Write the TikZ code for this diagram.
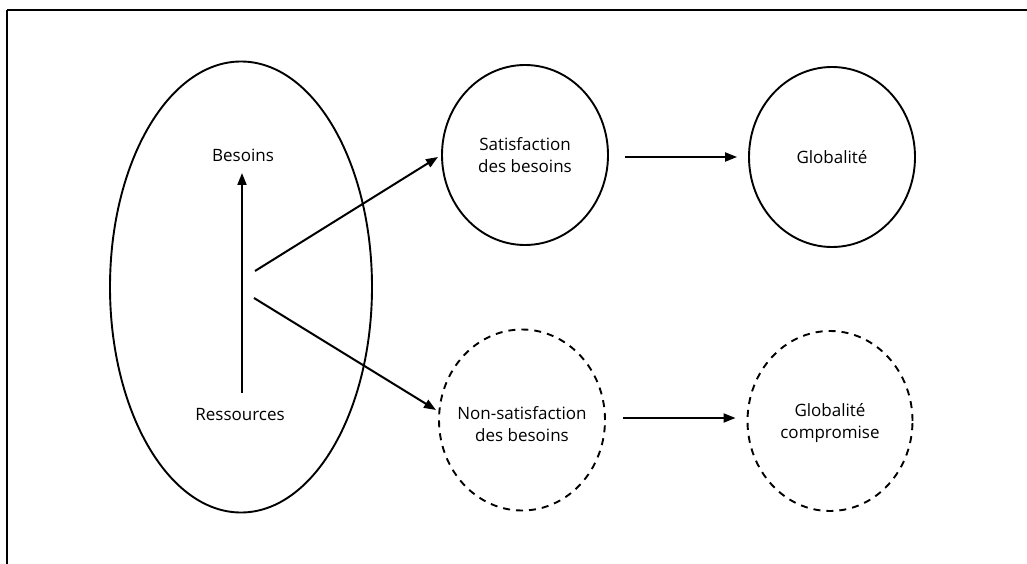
\documentclass[tikz,border=0pt]{standalone}
\usepackage{fontspec}
\setmainfont{Open Sans}
\usetikzlibrary{shapes.geometric,arrows.meta}
\begin{document}
\begin{tikzpicture}[x=1pt,y=-1pt,
  lbl/.style={font=\fontsize{17}{22}\selectfont, align=center, inner sep=0pt},
  bubble/.style={ellipse, draw, line width=1.9pt, minimum width=166pt, minimum height=180pt, inner sep=0pt},
  dbubble/.style={bubble, dash pattern=on 7pt off 6pt},
  arr/.style={line width=2pt, -{Triangle[length=12pt,width=9pt]}}]
\useasboundingbox (0,0) rectangle (1027,564);
\draw[line width=1.4pt] (7,564) -- (7,10);
\draw[line width=2.2pt] (7,10) -- (1027,10);
% big ellipse
\node[ellipse, draw, line width=1.9pt, minimum width=262pt, minimum height=451pt, inner sep=0pt] (big) at (241,287) {};
\node[lbl] (bes) at (243,155) {Besoins};
\node[lbl] (res) at (240,415) {Ressources};
\coordinate (vstart) at (242,393);
\coordinate (vend) at (242,173);
\draw[arr] (vstart) -- (vend);
% circles
\node[bubble] (sat) at (525,155) {};
\node[bubble] (glob) at (832,157) {};
\node[dbubble, minimum height=181pt] (ns) at (522,420) {};
\node[dbubble, minimum width=165pt] (gc) at (830,421) {};
\node[lbl] (satl) at (sat.center) {Satisfaction\\des besoins};
\node[lbl] (globl) at (glob.center) {Globalité};
\node[lbl] (nsl) at ([yshift=-4pt]ns.center) {Non-satisfaction\\des besoins};
\node[lbl] (gcl) at ([yshift=-2pt]gc.center) {Globalité\\compromise};
% diagonal arrows
\coordinate (d1) at (255,271);
\coordinate (d2) at (254,298);
\coordinate (t1) at (438,157);
\coordinate (t2) at (436,410);
\draw[arr] (d1) -- (t1);
\draw[arr] (d2) -- (t2);
% horizontal arrows
\draw[arr, shorten <=16pt, shorten >=11pt] (sat.east |- 0,157) -- (glob.west);
\draw[arr, shorten <=17pt, shorten >=11pt] (ns.east |- 0,418) -- (gc.west |- 0,418);
\end{tikzpicture}
\end{document}
